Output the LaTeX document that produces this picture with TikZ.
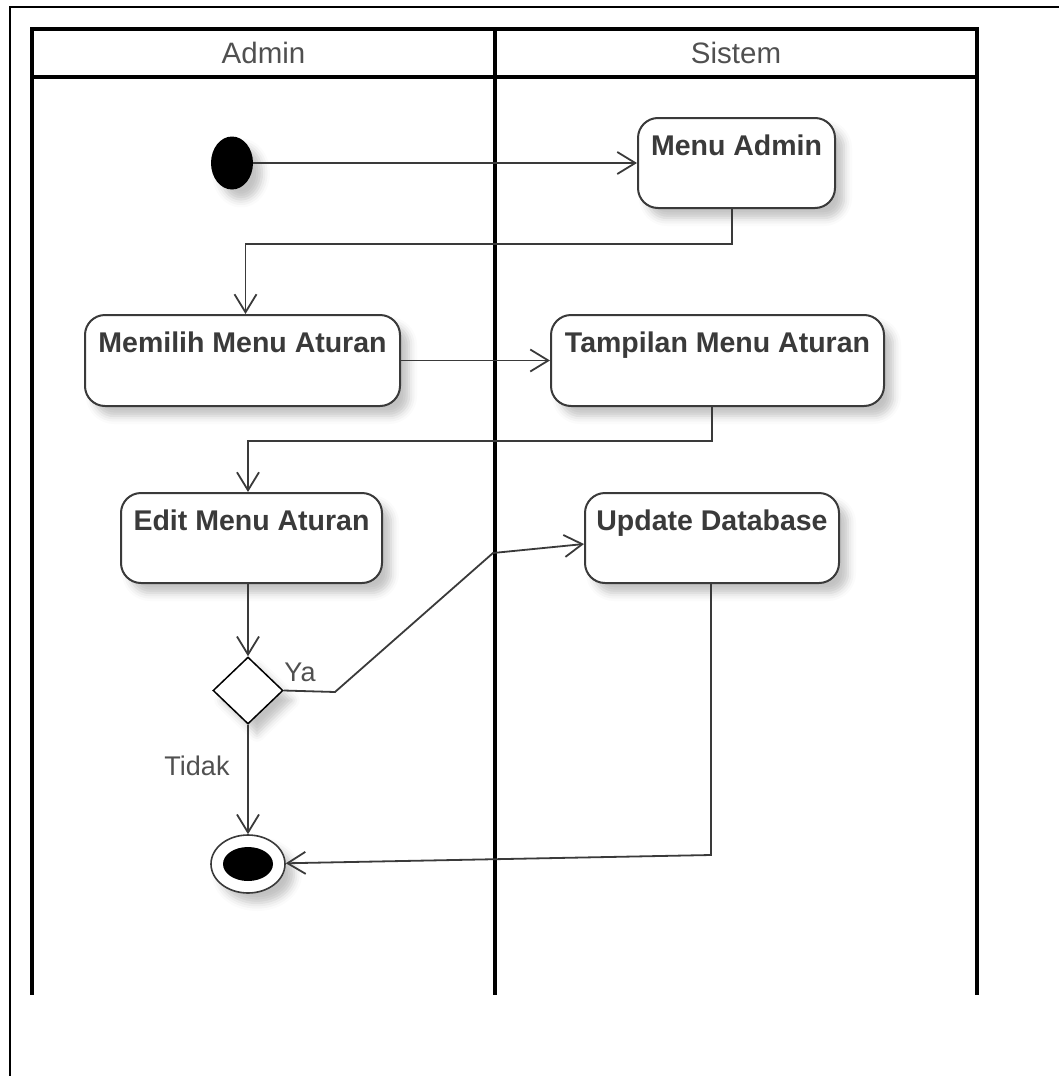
\documentclass[tikz,border=0pt]{standalone}
\usepackage{fontspec}
\setmainfont{Liberation Sans}
\usetikzlibrary{shapes.geometric,arrows.meta,shadows.blur}
\definecolor{ink}{RGB}{58,58,58}
\definecolor{soft}{RGB}{80,80,80}
\begin{document}
\begin{tikzpicture}[x=1pt,y=-1pt,
  frame/.style={line width=2.5pt,black},
  lane/.style={line width=4pt,black,line cap=rect},
  shade/.style={blur shadow={shadow xshift=9pt,shadow yshift=-10pt,shadow blur radius=8pt,shadow opacity=24}},
  act/.style={draw=ink,line width=2pt,rounded corners=20pt,fill=white,inner sep=0pt,shade},
  acttext/.style={font=\fontsize{28.5}{34}\selectfont\bfseries,text=ink,anchor=base,inner sep=0pt},
  lanetext/.style={font=\fontsize{29.5}{35}\selectfont,text=soft,inner sep=0pt},
  guard/.style={font=\fontsize{27}{32}\selectfont,text=soft,inner sep=0pt},
  flow/.style={draw=ink,line width=1.8pt,-{Straight Barb[length=18pt,width=22pt,line width=1.8pt]}}
]
\useasboundingbox (0,0) rectangle (1059,1076);

% outer frame
\draw[frame] (10,1076) -- (10,7) -- (1059,7);

% swimlanes
\draw[lane] (32,29) rectangle (977,77);
\draw[lane] (32,77) -- (32,993);
\draw[lane] (495,29) -- (495,993);
\draw[lane] (977,77) -- (977,993);
\node[lanetext] (hadmin) at (263.5,53) {Admin};
\node[lanetext] (hsistem) at (736,53) {Sistem};

% start and end
\node[ellipse,fill=black,minimum width=42pt,minimum height=53pt,inner sep=0pt,shade] (start) at (232,163) {};
\node[ellipse,draw=ink,line width=1.6pt,fill=white,minimum width=74pt,minimum height=58pt,inner sep=0pt,shade] (end) at (248,864) {};
\fill[black] (end.center) ellipse [x radius=25pt,y radius=17pt];

% activities
\node[act,minimum width=197pt,minimum height=90pt] (ma) at (736.5,163) {};
\node[acttext] (mat) at ([yshift=-38pt]ma.north) {Menu Admin};
\node[act,minimum width=315pt,minimum height=91pt] (mm) at (242.5,360.5) {};
\node[acttext] (mmt) at ([yshift=-38pt]mm.north) {Memilih Menu Aturan};
\node[act,minimum width=333pt,minimum height=91pt] (tm) at (717.5,360.5) {};
\node[acttext] (tmt) at ([yshift=-38pt]tm.north) {Tampilan Menu Aturan};
\node[act,minimum width=261pt,minimum height=90pt] (em) at (251.5,538) {};
\node[acttext] (emt) at ([yshift=-38pt]em.north) {Edit Menu Aturan};
\node[act,minimum width=254pt,minimum height=90pt] (ud) at (712,538) {};
\node[acttext] (udt) at ([yshift=-38pt]ud.north) {Update Database};

% decision
\node[diamond,draw=black,line width=1.5pt,fill=white,minimum width=70pt,minimum height=67pt,inner sep=0pt,shade] (dec) at (248,690.5) {};

% flows
\draw[flow] (start) -- (ma);
\draw[flow] ([xshift=-4.5pt]ma.south) -- ++(0,35) -| ([xshift=3pt]mm.north);
\draw[flow] (mm.east) -- (tm.west);
\draw[flow] ([xshift=-5.5pt]tm.south) -- ++(0,34) -| ([xshift=-3.5pt]em.north);
\draw[flow] ([xshift=-3.5pt]em.south) -- (dec.north);
\coordinate (ya1) at (335,692);
\coordinate (ya2) at (493,553);
\draw[flow] (dec.east) -- (ya1) -- (ya2) -- ([yshift=-6pt]ud.west);
\node[guard] (ya) at (300,672) {Ya};
\draw[flow] (dec.south) -- (end.north);
\node[guard] (tidak) at (197,766) {Tidak};
\coordinate (ud1) at (711,855);
\draw[flow] ([xshift=-1pt]ud.south) -- (ud1) -- (end);
\end{tikzpicture}
\end{document}
